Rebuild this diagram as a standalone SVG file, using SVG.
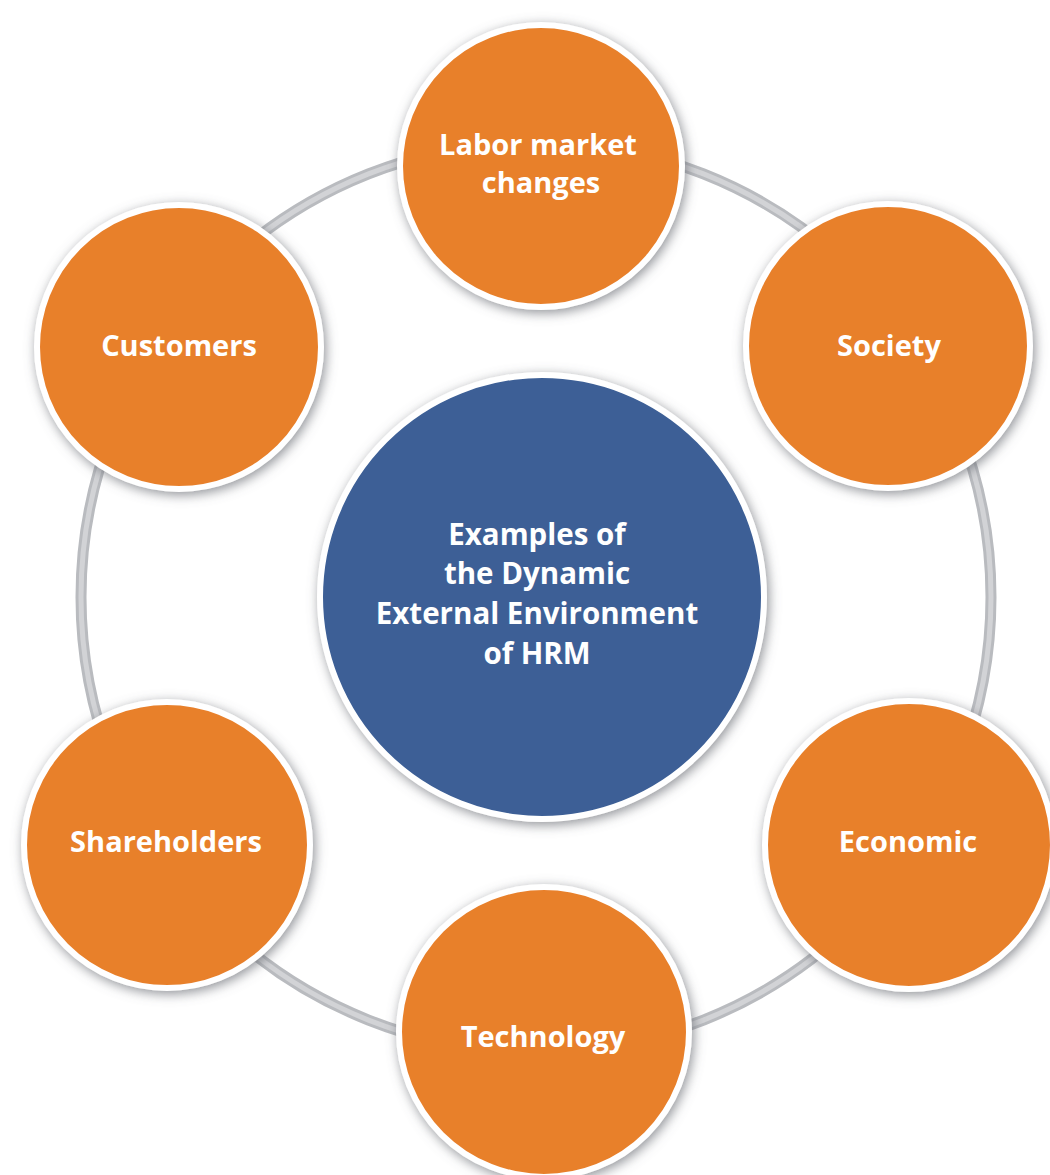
<svg xmlns="http://www.w3.org/2000/svg" width="1050" height="1175" viewBox="0 0 1050 1175">
  <defs>
    <filter id="shadow" x="-20%" y="-20%" width="140%" height="140%">
      <feGaussianBlur in="SourceAlpha" stdDeviation="6"/>
      <feOffset dx="2" dy="3" result="blur"/>
      <feFlood flood-color="#6b6e75" flood-opacity="0.75"/>
      <feComposite in2="blur" operator="in"/>
      <feMerge>
        <feMergeNode/>
        <feMergeNode in="SourceGraphic"/>
      </feMerge>
    </filter>
  </defs>
  <style>
    .orange { fill: #e8802c; stroke: #ffffff; stroke-width: 6; filter: url(#shadow); }
    .blue { fill: #3c5f96; stroke: #ffffff; stroke-width: 6; filter: url(#shadow); }
    .label { font-family: "Open Sans", "Noto Sans", "Liberation Sans", sans-serif; font-weight: 700; fill: #ffffff; text-anchor: middle; font-size: 29px; }
    .center { font-size: 29.5px; }
    .ring-outer { fill: none; stroke: #b9bbbf; stroke-width: 11; }
    .ring-inner { fill: none; stroke: #d2d3d6; stroke-width: 5; }
  </style>
  <rect width="1050" height="1175" fill="#ffffff"/>
  <g id="connectors">
    <circle class="ring-outer" cx="536" cy="597" r="455"/>
    <circle class="ring-inner" cx="536" cy="597" r="455"/>
  </g>
  <g id="node-labor">
    <circle class="orange" cx="541" cy="166" r="141"/>
    <text class="label" x="538" y="155">Labor market</text>
    <text class="label" x="541" y="193">changes</text>
  </g>
  <g id="node-customers">
    <circle class="orange" cx="179" cy="347" r="142"/>
    <text class="label" x="179" y="356">Customers</text>
  </g>
  <g id="node-society">
    <circle class="orange" cx="888" cy="346" r="142"/>
    <text class="label" x="889" y="356">Society</text>
  </g>
  <g id="node-shareholders">
    <circle class="orange" cx="167" cy="845" r="143"/>
    <text class="label" x="166" y="852">Shareholders</text>
  </g>
  <g id="node-economic">
    <circle class="orange" cx="909" cy="845" r="144"/>
    <text class="label" x="908" y="852">Economic</text>
  </g>
  <g id="node-technology">
    <circle class="orange" cx="544" cy="1032" r="145"/>
    <text class="label" x="543" y="1047">Technology</text>
  </g>
  <g id="node-center">
    <circle class="blue" cx="542" cy="597" r="222"/>
    <text class="label center" x="537" y="545">Examples of</text>
    <text class="label center" x="537" y="584">the Dynamic</text>
    <text class="label center" x="537" y="624">External Environment</text>
    <text class="label center" x="537" y="664">of HRM</text>
  </g>
</svg>
